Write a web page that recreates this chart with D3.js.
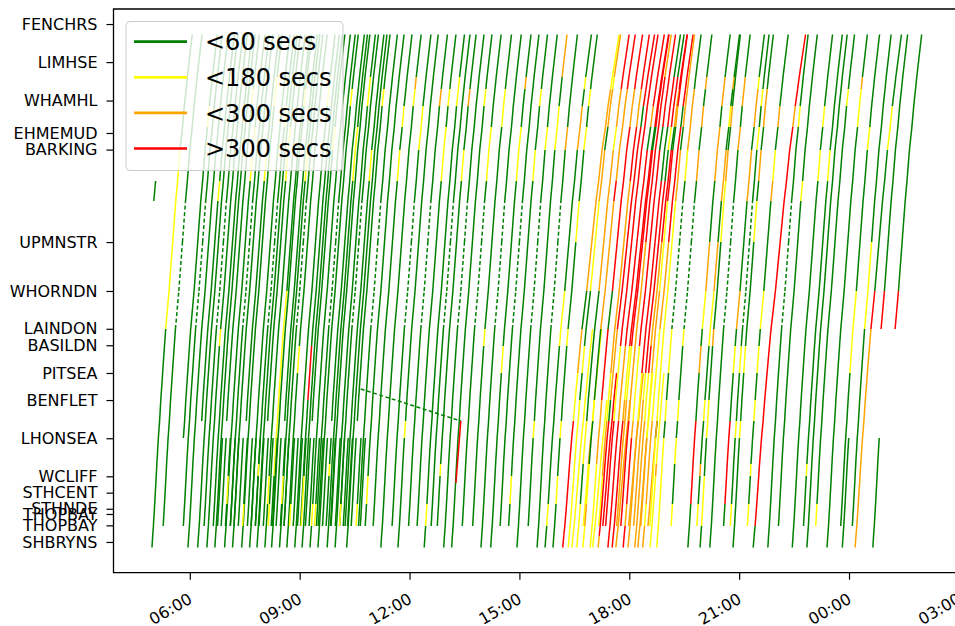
<!DOCTYPE html>
<html>
<head>
<meta charset="utf-8">
<script src="https://cdn.jsdelivr.net/npm/d3@7"></script>
<style>
  body { margin: 0; background: #fff; }
  svg { display: block; font-family: "DejaVu Sans", sans-serif; }
</style>
</head>
<body>
<svg id="chart" width="955" height="626"></svg>
<script>
// y axis: station labels and their distance along the line
const stationNames = ["FENCHRS", "LIMHSE", "WHAMHL", "EHMEMUD", "BARKING", "UPMNSTR", "WHORNDN",
    "LAINDON", "BASILDN", "PITSEA", "BENFLET", "LHONSEA", "WCLIFF", "STHCENT", "STHNDE",
    "THOPBAY", "THOPBAY", "SHBRYNS"];
const stationPos = [0, 2.91, 5.85, 8.33, 9.6, 16.67, 20.41, 23.3, 24.56, 26.68, 28.75,
    31.67, 34.58, 35.83, 37.06, 37.46, 38.33, 39.6];
const posDomain = [-1.15, 41.95];

// timing points every train passes, Shoeburyness end first, and minutes to reach them
const pointPos = [40.02, 39.14, 38.38, 36.70, 34.56, 33.64, 31.65, 30.35, 28.75, 26.68, 24.62,
    23.32, 20.41, 16.67, 13.53, 12.00, 9.63, 7.87, 6.27, 4.97, 4.05, 0.80];
const runMins = [0, 1.2, 2.4, 4.5, 7, 8, 10.5, 12.5, 14.5, 17.5, 20.5, 22.5, 28, 34, 39, 42,
    46, 50, 53, 56, 58, 66];

// x axis (hours past midnight keep counting after 24:00)
const timeDomain = ["03:55", "27:01"];
const timeTicks = ["06:00", "09:00", "12:00", "15:00", "18:00", "21:00", "24:00", "27:00"];

const delayLabels = ["<60 secs", "<180 secs", "<300 secs", ">300 secs"];
const delayColours = ["green", "yellow", "orange", "red"];

// trains: [time at the Shoeburyness end, first point, last point, slowness, colour per segment]
// colour codes: . green, y yellow, o orange, r red, d green dashed (no reports)
const trains = [
    ["04:22", 14, 15, 1, ""],
    ["04:58", 0, 21, 1, "...........yyyyy"],
    ["05:14", 2, 21, 1, "...........ddd"],
    ["05:39", 6, 21, 1, ".................y"],
    ["05:47", 2, 21, 1, "...........ddd"],
    ["05:57", 0, 21, 1, ""],
    ["06:07", 7, 21, 1, "..............y"],
    ["06:13", 0, 21, 1, ""],
    ["06:21", 2, 21, 1, "...........ddd"],
    ["06:28", 0, 21, 1, "..........y"],
    ["06:36", 2, 21, 1, ""],
    ["06:41", 0, 21, 1, ""],
    ["06:48", 7, 21, 1, "..................y"],
    ["06:57", 0, 21, 1, "...............yy"],
    ["07:04", 2, 21, 1, "...........ddd"],
    ["07:10", 0, 21, 1, ""],
    ["07:20", 7, 21, 1, "...............y"],
    ["07:25", 0, 21, 1, "..................yy"],
    ["07:38", 0, 21, 1, ""],
    ["07:45", 2, 21, 1, "...........ddd...y"],
    ["07:50", 0, 21, 1, ""],
    ["07:55", 7, 21, 1, "...............yy"],
    ["08:03", 0, 21, 1, "...y"],
    ["08:11", 2, 21, 1, "....yyyyyyyy"],
    ["08:14", 0, 21, 1, "..................y"],
    ["08:23", 7, 21, 1, ""],
    ["08:27", 0, 21, 1, "...............y"],
    ["08:32", 2, 21, 1, "...........ddd"],
    ["08:39", 0, 21, 1, ".........y"],
    ["08:52", 0, 21, 1, "..................yy"],
    ["08:59", 2, 21, 1, "........rr"],
    ["09:04", 0, 21, 1, ""],
    ["09:08", 7, 21, 1, "................y"],
    ["09:17", 0, 21, 1, "..y"],
    ["09:25", 2, 21, 1, "...........ddd"],
    ["09:30", 0, 21, 1, "..................y"],
    ["09:40", 7, 21, 1, ""],
    ["09:45", 0, 21, 1, "...............yy"],
    ["09:49", 2, 21, 1, ""],
    ["09:58", 0, 21, 1, "..................yy"],
    ["10:03", 2, 21, 1, "...........ddd"],
    ["10:12", 2, 21, 1, "...............y"],
    ["10:17", 0, 21, 1, ""],
    ["10:22", 7, 21, 1, "..................y"],
    ["10:34", 2, 21, 1, "...........ddd"],
    ["10:45", 2, 21, 1, "...y"],
    ["10:58", 2, 21, 1, "...............y.y"],
    ["11:13", 0, 21, 1, "..................yo"],
    ["11:29", 2, 21, 1, "...........ddd..yy"],
    ["11:41", 0, 21, 1, "......y"],
    ["11:56", 2, 21, 1, "...........ddd....o"],
    ["12:10", 2, 21, 1, "...............yy.y"],
    ["12:24", 0, 21, 1, "..y...............yy"],
    ["12:33", 2, 21, 1, "...........ddd"],
    ["12:43", 2, 21, 1, "....y..........y..o"],
    ["12:56", 0, 21, 1, "...........ddd"],
    ["13:09", 0, 21, 1, "..................y"],
    ["13:24", 2, 21, 1, "...........ddd.yy"],
    ["13:41", 2, 21, 1, "..........y......yy"],
    ["13:57", 0, 21, 1, "...........ddd"],
    ["14:13", 0, 21, 1, ".........y.....yy..o"],
    ["14:26", 2, 21, 1, "...........ddd"],
    ["14:40", 2, 21, 1, "...y...........y..y"],
    ["14:56", 0, 21, 1, "...........ddd..y"],
    ["15:12", 2, 21, 1, "......y.........yy..o"],
    ["15:29", 0, 21, 1, "...........ddd..o"],
    ["15:42", 0, 21, 1.15, "..y.......yy....oo.y"],
    ["15:55", 0, 21, 1.1, "...y..y...y..y..y.y"],
    ["16:11", 0, 21, 1.4, "rrrrrrryyoo.oooooooyy"],
    ["16:20", 0, 21, 1.3, "yyyyyyyy.y..yyoo.ooyo"],
    ["16:26", 0, 11, 1.5, "yyyyyyyyyyy"],
    ["16:34", 0, 21, 1.3, "yyy..yy.....ooooyoorr"],
    ["16:41", 2, 11, 1.5, "..yyyoyyyyy"],
    ["16:44", 0, 21, 1.3, "yyoyy..y...oooroooorr"],
    ["16:56", 0, 21, 1.3, "yyyyyooorrr.rrrrroorr"],
    ["17:00", 0, 8, 1.6, "yyyyyyyy"],
    ["17:07", 2, 21, 1.3, "..yyoooyyoooooorroorr"],
    ["17:09", 0, 21, 1.4, "orrrrrr.ooorrrrrr.rrr"],
    ["17:13", 2, 9, 1.5, "..rrrrrrr"],
    ["17:18", 2, 21, 1.35, "..rrrrryyyrrrrrrrrrrr"],
    ["17:25", 0, 21, 1.4, "rrrrrrrooorrrrrr.orrr"],
    ["17:32", 0, 21, 1.4, "rrrrrrroyyrrrrrr.rrrr"],
    ["17:36", 2, 21, 1.35, "..ooooooyyrrrrrr.rrrr"],
    ["17:38", 0, 8, 1.6, "oooooooo"],
    ["17:43", 2, 21, 1.3, "..rrrrroooooorrrrrrro"],
    ["17:50", 0, 21, 1.3, "rrorrroyyyrrrrrr.rrrr"],
    ["17:55", 2, 9, 1.6, "..ooooooo"],
    ["17:58", 0, 21, 1.3, "oooooooyyrrrrrr.grrr"],
    ["18:04", 2, 21, 1.3, "..ooooooyrrrrrr.yrrr"],
    ["18:09", 0, 21, 1.3, "oooooooyyrooorrr.oorr"],
    ["18:14", 0, 9, 1.4, "ooooooyyy"],
    ["18:16", 2, 21, 1.2, "..ooooyyyoooyyrr.orrr"],
    ["18:22", 0, 21, 1.25, "ooyooooyyyyoorrrr.rrr"],
    ["18:27", 2, 7, 1.5, "..oooo"],
    ["18:31", 2, 21, 1.15, "..yyyyoyyyyyyyoo.oooo"],
    ["18:34", 0, 9, 1.3, "yyyyoyyyy"],
    ["18:45", 0, 21, 1.1, "yyyyyy.y.yyddd.yooo"],
    ["19:06", 2, 21, 1.05, "..y..y.y..yddd.o.o.o"],
    ["19:36", 0, 21, 1.05, "...rrrr..o.yo..oo.oo"],
    ["19:48", 2, 21, 1.1, "..y.o..y..yyo.oo.y.o"],
    ["19:56", 0, 21, 1, "..yy..yy..o..yyo.o"],
    ["20:12", 0, 21, 1, "...........ddd..o.oo"],
    ["20:32", 2, 21, 1.05, "...rrrr..y.o..oo.ooy"],
    ["20:43", 2, 21, 1, "..y...y..y.ddd..y.y"],
    ["20:50", 0, 21, 1, "......y..y...y.o.oo"],
    ["21:11", 2, 21, 1.05, "..y.y..y.y.y..oy.o"],
    ["21:23", 0, 21, 1.3, "..rrrrrrrrrrrrrrrorrr"],
    ["21:47", 0, 21, 1, "...........ddd...y"],
    ["22:02", 2, 21, 1, "..............y"],
    ["22:27", 0, 21, 1, "...............y.y"],
    ["22:43", 2, 21, 1, "....y..........y"],
    ["22:51", 0, 21, 1, ""],
    ["23:03", 2, 21, 1, "..y...............y"],
    ["23:24", 0, 21, 1, ".................yyo"],
    ["23:44", 2, 21, 1, ".........yyy....y"],
    ["23:49", 0, 6, 1, ""],
    ["24:03", 2, 21, 1, "...........yy"],
    ["24:10", 0, 21, 1.15, "ooooooooooor....yy"],
    ["24:30", 11, 21, 1, "...........r"],
    ["24:39", 0, 6, 1, ""],
    ["24:53", 11, 21, 1, "...........r"]
];

// morning peak short workings, Thorpe Bay to Leigh-on-Sea: [time, colours]
const peakShorts = [
    ["06:43", ""], ["06:49", ""], ["06:56", "...y"], ["07:04", ""], ["07:10", ""],
    ["07:17", ""], ["07:24", "..y"], ["07:32", ""], ["07:38", ""], ["07:45", "....y"],
    ["07:51", ""], ["07:58", ""], ["08:06", "..y"], ["08:13", ""], ["08:19", ""],
    ["08:26", "...y"], ["08:32", ""], ["08:41", "..y"], ["08:47", ""], ["08:54", ""],
    ["09:00", "..yy"], ["09:07", ""], ["09:13", ""], ["09:22", "..y"], ["09:28", ""],
    ["09:35", ""], ["09:41", "....y"], ["09:48", ""], ["09:56", ""], ["10:03", "..y"],
    ["10:09", ""], ["10:16", ""], ["10:22", ""], ["10:30", "..y"], ["10:37", ""]
];

// stray reports that join far-apart points: [time, pos, time, pos, colour]
const oddLinks = [
    ["10:40", 27.9, "13:24", 30.35, "d"],
    ["13:16", 35.09, "13:24", 30.35, "r"]
];

const colourOf = { ".": "green", "g": "green", "d": "green", "y": "yellow", "o": "orange", "r": "red" };

const parseT = s => {
    const [h, m] = s.split(":").map(Number);
    return new Date(2019, 0, 1, h, m);
};
const addMin = (d, m) => new Date(d.getTime() + m * 60000);

const svg = d3.select("#chart");

const x = d3.scaleTime()
    .domain(timeDomain.map(parseT))
    .range([113.5, 959.5]);

const y = d3.scaleLinear()
    .domain(posDomain)
    .range([9, 572.7]);

// flatten trains into line segments
let segs = [];
trains.forEach(([t, from, to, slow, cols]) => {
    const t0 = parseT(t);
    for (let i = from; i < to; i++) {
        segs.push({
            t1: addMin(t0, runMins[i] * slow), p1: pointPos[i],
            t2: addMin(t0, runMins[i + 1] * slow), p2: pointPos[i + 1],
            c: cols[i] || "."
        });
    }
});
peakShorts.forEach(([t, cols]) => {
    const t0 = parseT(t);
    for (let i = 2; i < 6; i++) {
        segs.push({
            t1: addMin(t0, runMins[i]), p1: pointPos[i],
            t2: addMin(t0, runMins[i + 1]), p2: pointPos[i + 1],
            c: cols[i] || "."
        });
    }
});
oddLinks.forEach(([ta, pa, tb, pb, c]) => {
    segs.push({ t1: parseT(ta), p1: pa, t2: parseT(tb), p2: pb, c: c });
});

svg.append("clipPath").attr("id", "plotclip")
    .append("rect").attr("x", 113.5).attr("y", 9).attr("width", 846).attr("height", 563.7);

svg.append("g")
    .attr("clip-path", "url(#plotclip)")
    .selectAll("line")
    .data(segs)
    .join("line")
        .attr("x1", d => x(d.t1))
        .attr("y1", d => y(d.p1))
        .attr("x2", d => x(d.t2))
        .attr("y2", d => y(d.p2))
        .attr("stroke", d => colourOf[d.c])
        .attr("stroke-width", 1.5)
        .attr("stroke-dasharray", d => d.c === "d" ? "4,2.5" : null);

// axes
const yAxis = svg.append("g")
    .attr("transform", `translate(${x.range()[0]},0)`)
    .call(d3.axisLeft(y).tickValues(stationPos).tickFormat((d, i) => stationNames[i])
        .tickSize(7).tickPadding(9));
yAxis.select(".domain").remove();
yAxis.selectAll("text").attr("font-size", 16).attr("font-family", "DejaVu Sans").attr("fill", "#000");
yAxis.selectAll("line").attr("stroke-width", 1.2);

const xAxis = svg.append("g")
    .attr("transform", `translate(0,${y.range()[1]})`)
    .call(d3.axisBottom(x).tickValues(timeTicks.map(parseT)).tickFormat(d3.timeFormat("%H:%M"))
        .tickSize(7));
xAxis.select(".domain").remove();
xAxis.selectAll("line").attr("stroke-width", 1.2);
xAxis.selectAll("text")
    .attr("font-size", 16).attr("font-family", "DejaVu Sans").attr("fill", "#000")
    .attr("text-anchor", "end")
    .attr("x", 0).attr("y", 0).attr("dy", "0.75em")
    .attr("transform", "translate(-3,19) rotate(-30)");

// spines
const [xl, xr] = x.range(), [yt, yb] = y.range();
svg.append("path")
    .attr("d", `M${xr},${yt}H${xl}V${yb}H${xr}`)
    .attr("fill", "none").attr("stroke", "#000").attr("stroke-width", 1.3);

// legend
const lg = svg.append("g");
lg.append("rect")
    .attr("x", 126).attr("y", 21.5).attr("width", 217).attr("height", 149).attr("rx", 4)
    .attr("fill", "#fff").attr("fill-opacity", 0.8).attr("stroke", "#cccccc");
delayLabels.forEach((label, i) => {
    const ly = 41.7 + i * 35.6;
    lg.append("line")
        .attr("x1", 134).attr("x2", 187).attr("y1", ly).attr("y2", ly)
        .attr("stroke", delayColours[i]).attr("stroke-width", 2.7);
    lg.append("text")
        .attr("x", 205).attr("y", ly).attr("dy", "0.36em")
        .attr("font-size", 24).attr("fill", "#000")
        .text(label);
});
</script>
</body>
</html>
